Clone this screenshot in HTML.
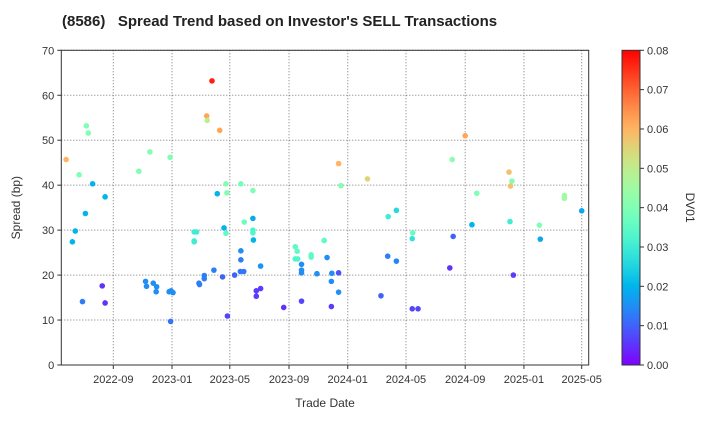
<!DOCTYPE html>
<html><head><meta charset="utf-8"><style>
body{margin:0;background:#fff;font-family:"Liberation Sans",sans-serif;}
svg text{font-family:"Liberation Sans",sans-serif;}
</style></head><body>
<svg id="chart" width="720" height="420" xmlns="http://www.w3.org/2000/svg">
<defs><linearGradient id="cbg" x1="0" y1="1" x2="0" y2="0"></linearGradient></defs>
<text x="62" y="26" font-size="15" font-weight="bold" fill="#222">(8586)&#160;&#160;&#160;Spread Trend based on Investor's SELL Transactions</text>
<g id="grid"></g><g id="axes"></g><g id="points"></g><g id="cbar"></g>
</svg>
<script>
const dates=["2022-05-26","2022-07-07","2022-07-11","2022-06-22","2022-07-20","2022-08-15","2022-07-05","2022-06-14","2022-06-08","2022-08-09","2022-08-15","2022-06-29","2022-10-24","2022-11-16","2022-12-28","2022-11-07","2022-11-09","2022-11-23","2022-11-30","2022-11-29","2022-12-26","2022-12-30","2023-01-03","2022-12-29","2023-03-25","2023-03-14","2023-03-15","2023-04-10","2023-04-23","2023-04-25","2023-04-05","2023-05-24","2023-06-18","2023-05-31","2023-06-18","2023-06-18","2023-06-18","2023-06-19","2023-04-19","2023-04-23","2023-02-16","2023-02-21","2023-02-16","2023-02-16","2023-05-24","2023-05-24","2023-05-23","2023-05-30","2023-07-04","2023-03-29","2023-03-09","2023-03-09","2023-02-26","2023-02-27","2023-04-16","2023-05-11","2023-04-26","2023-06-25","2023-07-04","2023-06-25","2023-08-21","2023-09-27","2023-09-14","2023-09-18","2023-09-14","2023-09-19","2023-10-17","2023-10-17","2023-09-27","2023-09-27","2023-09-27","2023-10-29","2023-11-13","2023-11-19","2023-11-29","2023-11-28","2023-12-13","2023-12-13","2023-11-28","2023-12-13","2023-12-18","2024-02-11","2024-04-11","2024-03-25","2024-05-15","2024-05-14","2024-03-24","2024-04-11","2024-03-10","2024-05-14","2024-05-26","2024-08-05","2024-09-01","2024-08-07","2024-07-31","2024-09-25","2024-09-15","2024-12-01","2024-12-07","2024-12-04","2024-12-03","2024-12-10","2025-02-02","2025-02-04","2025-03-26","2025-03-26","2025-05-01"];
const spreads=[45.7,53.2,51.6,42.3,40.3,37.4,33.7,29.8,27.4,17.6,13.8,14.1,43.1,47.4,46.2,18.6,17.5,18.2,17.4,16.3,16.3,16.5,16.1,9.7,63.2,55.4,54.4,52.2,40.3,38.3,38.1,40.3,38.8,31.8,32.6,30.0,29.4,27.8,30.5,29.3,29.6,29.6,27.6,27.4,25.4,23.4,20.8,20.8,22.0,21.1,19.9,19.2,18.2,17.9,19.6,20.0,10.9,16.5,17.0,15.3,12.8,14.2,26.3,25.3,23.6,23.6,24.5,24.0,22.4,21.1,20.5,20.3,27.7,23.9,20.4,18.6,20.5,16.2,13.0,44.8,39.9,41.4,34.4,33.0,29.4,28.1,24.2,23.1,15.4,12.5,12.5,45.7,51.0,28.6,21.6,38.2,31.2,42.9,40.9,39.8,31.9,20.0,31.1,28.0,37.7,37.1,34.3];
const dv01=[0.06,0.04,0.04,0.04,0.02,0.02,0.02,0.02,0.02,0.005,0.005,0.013,0.04,0.04,0.04,0.015,0.015,0.015,0.015,0.015,0.015,0.015,0.015,0.012,0.077,0.062,0.05,0.062,0.04,0.04,0.02,0.038,0.04,0.037,0.018,0.032,0.033,0.02,0.02,0.035,0.03,0.03,0.03,0.03,0.015,0.013,0.012,0.012,0.016,0.013,0.013,0.013,0.013,0.013,0.01,0.01,0.007,0.006,0.006,0.006,0.005,0.007,0.035,0.035,0.033,0.033,0.035,0.035,0.015,0.015,0.015,0.015,0.035,0.015,0.015,0.015,0.008,0.015,0.006,0.06,0.04,0.055,0.026,0.03,0.036,0.028,0.013,0.014,0.01,0.007,0.007,0.042,0.062,0.01,0.005,0.04,0.02,0.058,0.04,0.058,0.03,0.006,0.04,0.018,0.045,0.045,0.018];
const xTicks=["2022-09","2023-01","2023-05","2023-09","2024-01","2024-05","2024-09","2025-01","2025-05"];
const yTicks=[0,10,20,30,40,50,60,70];
const cTicks=[0,0.01,0.02,0.03,0.04,0.05,0.06,0.07,0.08];
const NS="http://www.w3.org/2000/svg";
const L=61.3,R=588.7,T=50.3,B=365;
const d0=Date.UTC(2022,8,1),x0=113.3,pxd=0.4814;
function dayOf(s){const p=s.split("-");return (Date.UTC(+p[0],+p[1]-1,+(p[2]||1))-d0)/86400000;}
function X(s){return x0+dayOf(s)*pxd;}
function Y(v){return B-(v/70)*(B-T);}
function cmap(t){t=Math.max(0,Math.min(1,t));const r=Math.min(1,Math.abs(2*t-0.5)),g=Math.sin(Math.PI*t),b=Math.cos(Math.PI*t/2);return `rgb(${Math.round(r*255)},${Math.round(g*255)},${Math.round(b*255)})`;}
function C(v){return cmap(v/0.08);}
function mk(tag,a,p){const e=document.createElementNS(NS,tag);for(const k in a)e.setAttribute(k,a[k]);p.appendChild(e);return e;}
const grid=document.getElementById("grid"),axes=document.getElementById("axes"),pts=document.getElementById("points"),cb=document.getElementById("cbar");
xTicks.forEach(t=>{const x=X(t);
const g=mk("line",{x1:x,x2:x,y1:T,y2:B,stroke:"#777","stroke-dasharray":"1,2","stroke-width":1},grid);


mk("line",{x1:x,x2:x,y1:B,y2:B+4,stroke:"#333"},axes);
const tx=mk("text",{x:x,y:B+18,"font-size":11,"text-anchor":"middle",fill:"#333"},axes);tx.textContent=t;

});
yTicks.forEach(v=>{const y=Y(v);
const g=mk("line",{x1:L,x2:R,y1:y,y2:y,stroke:"#777","stroke-dasharray":"1,2","stroke-width":1},grid);


mk("line",{x1:L-4,x2:L,y1:y,y2:y,stroke:"#333"},axes);
const tx=mk("text",{x:L-7,y:y+4,"font-size":11,"text-anchor":"end",fill:"#333"},axes);tx.textContent=v;

});
const fr=mk("rect",{x:L,y:T,width:R-L,height:B-T,fill:"none",stroke:"#333","stroke-width":1},axes);


const xl=mk("text",{x:(L+R)/2,y:407,"font-size":12,"text-anchor":"middle",fill:"#333"},axes);xl.textContent="Trade Date";


const yl=mk("text",{x:0,y:0,"font-size":12,"text-anchor":"middle",fill:"#333",transform:`translate(20,${(T+B)/2}) rotate(-90)`},axes);yl.textContent="Spread (bp)";


dates.forEach((d,i)=>{const c=mk("circle",{cx:X(d),cy:Y(spreads[i]),r:2.8,fill:C(dv01[i])},pts);

});
const grad=document.getElementById("cbg");
for(let i=0;i<=20;i++){mk("stop",{offset:(i/20),"stop-color":cmap(i/20)},grad);}
const CL=622,CW=18;
const cr=mk("rect",{x:CL,y:T,width:CW,height:B-T,fill:"url(#cbg)",stroke:"#333","stroke-width":1},cb);


cTicks.forEach(v=>{const y=B-(v/0.08)*(B-T);
mk("line",{x1:CL+CW,x2:CL+CW+4,y1:y,y2:y,stroke:"#333"},cb);
const tx=mk("text",{x:CL+CW+7,y:y+4,"font-size":11,fill:"#333"},cb);tx.textContent=v.toFixed(2);

});
const cl=mk("text",{x:0,y:0,"font-size":12,"text-anchor":"middle",fill:"#333",transform:`translate(686,${(T+B)/2}) rotate(90)`},cb);cl.textContent="DV01";


</script>
</body></html>
